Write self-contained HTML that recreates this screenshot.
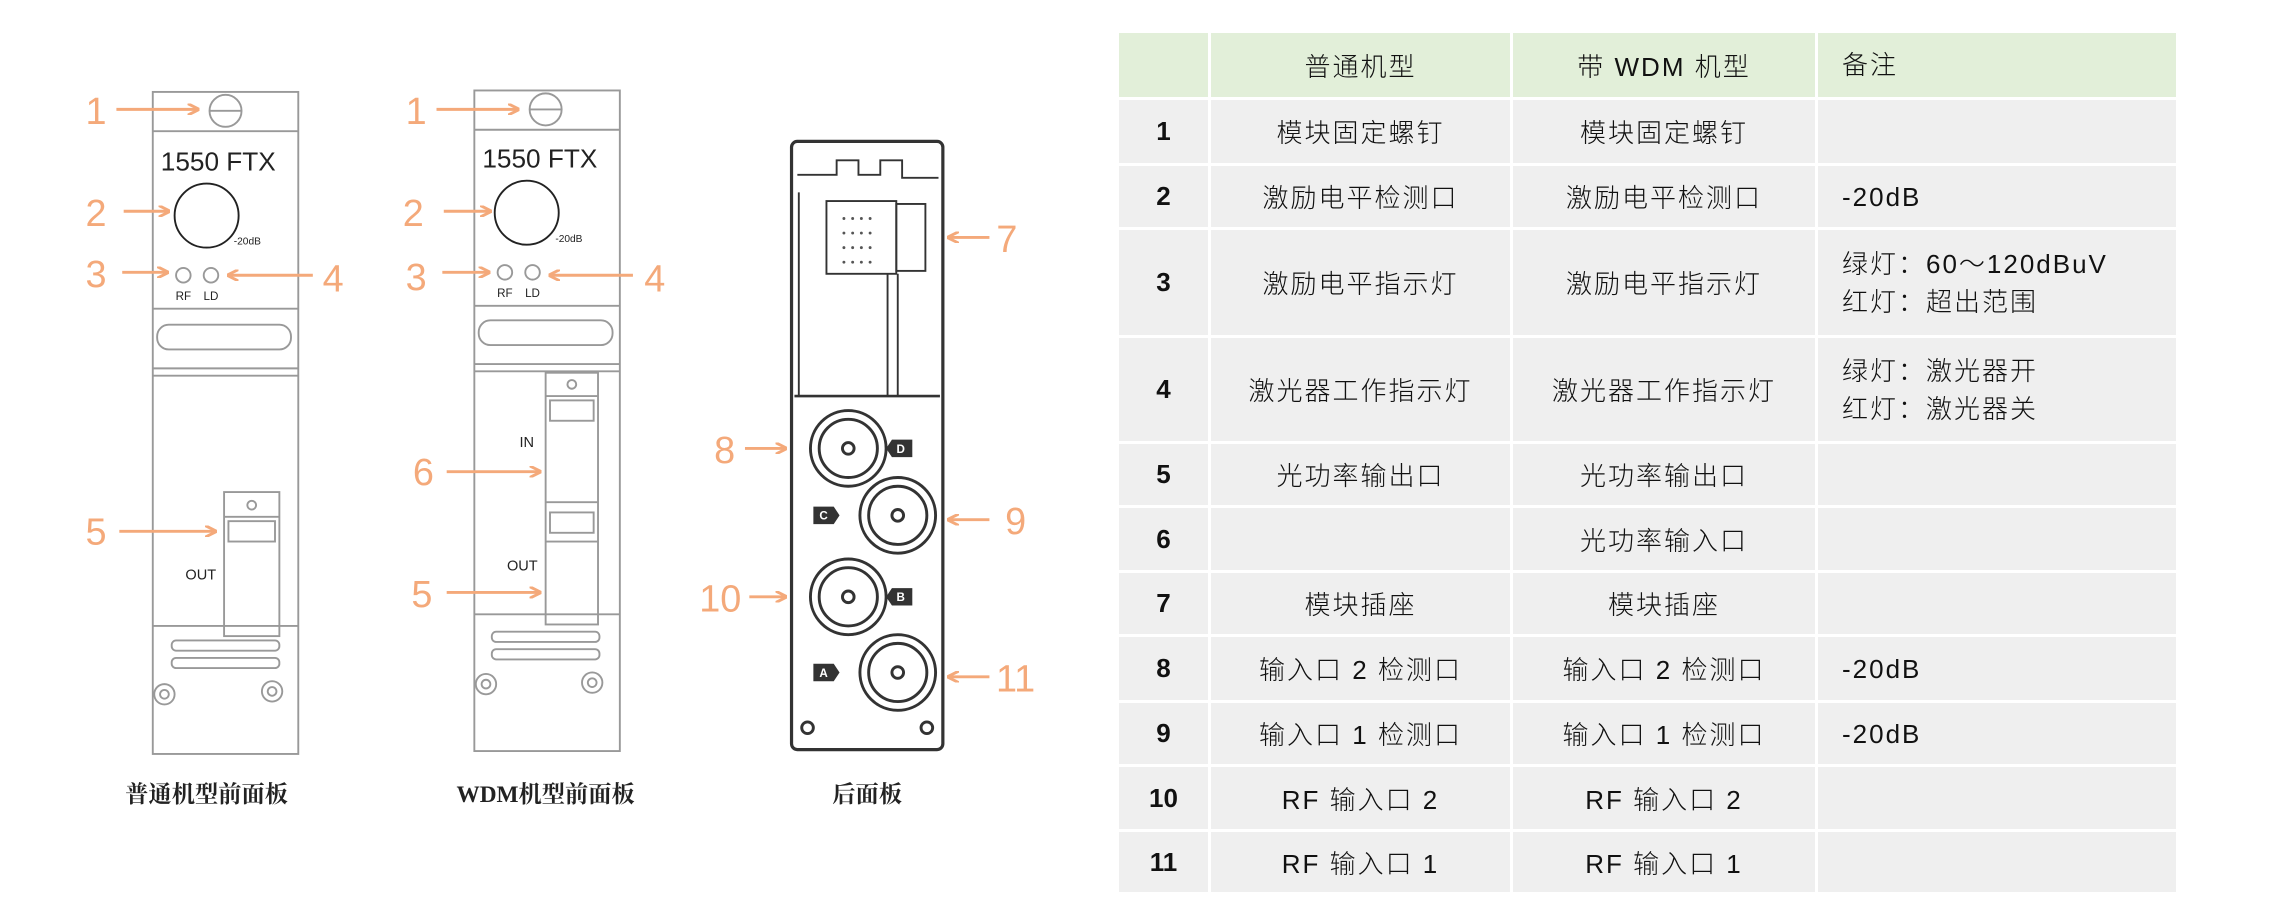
<!DOCTYPE html>
<html><head><meta charset="utf-8"><style>
body{margin:0;width:2270px;height:923px;background:#fff;overflow:hidden;position:relative;font-family:"Liberation Sans","Noto Sans CJK SC",sans-serif}
svg{position:absolute;left:0;top:0}
table{position:absolute;left:1119px;top:33px;border-collapse:separate;border-spacing:3px;margin:-3px}
td{background:#efefef;font-size:26px;color:#111;text-align:center;padding:0;font-family:"Liberation Sans","Noto Sans CJK SC",sans-serif;font-weight:300;letter-spacing:2px}
tr.h td{background:#e2efd9}
td.n{font-weight:bold;width:89px;letter-spacing:0}
td.c{width:299px}
td.c2{width:302px}
td.r{width:358px;text-align:left;padding-left:24px;box-sizing:border-box;line-height:38px}
</style></head><body>
<svg width="1100" height="923" viewBox="0 0 756 634" font-family="Liberation Sans, sans-serif">
<defs><marker id="a" markerWidth="8" markerHeight="8" refX="7" refY="4" orient="auto" markerUnits="userSpaceOnUse"><path d="M0,0 L8,4 L0,8" fill="none" stroke="#f4a97a" stroke-width="2"/></marker></defs>
<g fill="none" stroke="#999" stroke-width="1.3">
<rect x="105" y="63" width="100" height="455"/>
<line x1="105" y1="90" x2="205" y2="90"/>
<circle cx="155" cy="76" r="11"/><line x1="144" y1="76" x2="166" y2="76"/>
<circle cx="142" cy="148" r="22" stroke="#222"/>
<circle cx="126" cy="189" r="5"/><circle cx="145" cy="189" r="5"/>
<line x1="105" y1="212" x2="205" y2="212"/>
<rect x="108" y="223" width="92" height="17" rx="8"/>
<line x1="105" y1="253" x2="205" y2="253"/><line x1="105" y1="258" x2="205" y2="258"/>
<rect x="154" y="338" width="38" height="99"/><line x1="154" y1="355" x2="192" y2="355"/><rect x="157" y="358" width="32" height="14"/><circle cx="173" cy="347" r="3"/>
<line x1="105" y1="430" x2="205" y2="430"/>
<rect x="118" y="440" width="74" height="7" rx="3"/><rect x="118" y="452" width="74" height="7" rx="3"/>
<circle cx="113" cy="477" r="7"/><circle cx="113" cy="477" r="3"/><circle cx="187" cy="475" r="7"/><circle cx="187" cy="475" r="3"/>
<rect x="326" y="62" width="100" height="454"/>
<line x1="326" y1="89" x2="426" y2="89"/>
<circle cx="375" cy="75" r="11"/><line x1="364" y1="75" x2="386" y2="75"/>
<circle cx="362" cy="146" r="22" stroke="#222"/>
<circle cx="347" cy="187" r="5"/><circle cx="366" cy="187" r="5"/>
<line x1="326" y1="210" x2="426" y2="210"/>
<rect x="329" y="220" width="92" height="17" rx="8"/>
<line x1="326" y1="250" x2="426" y2="250"/><line x1="326" y1="255" x2="426" y2="255"/>
<rect x="375" y="256" width="36" height="173"/><line x1="375" y1="272" x2="411" y2="272"/><rect x="378" y="275" width="30" height="14"/><circle cx="393" cy="264" r="3"/>
<line x1="375" y1="345" x2="411" y2="345"/><rect x="378" y="352" width="30" height="14"/><line x1="375" y1="372" x2="411" y2="372"/>
<line x1="326" y1="422" x2="426" y2="422"/>
<rect x="338" y="434" width="74" height="7" rx="3"/><rect x="338" y="446" width="74" height="7" rx="3"/>
<circle cx="334" cy="470" r="7"/><circle cx="334" cy="470" r="3"/><circle cx="407" cy="469" r="7"/><circle cx="407" cy="469" r="3"/>
</g>
<g fill="none" stroke="#333" stroke-width="1.3">
<rect x="544" y="97" width="104" height="418" rx="4" stroke-width="2.2"/>
<path d="M548,120 H575 V110 H590 V120 H605 V110 H620 V122 H645"/>
<line x1="546" y1="272" x2="646" y2="272" stroke-width="1.8"/>
<rect x="568" y="138" width="48" height="50"/><rect x="616" y="140" width="20" height="46"/>
<line x1="610" y1="188" x2="610" y2="272"/><line x1="617" y1="188" x2="617" y2="272"/>
<line x1="549" y1="132" x2="549" y2="272"/>
<g stroke-width="2">
<circle cx="583" cy="308" r="26"/><circle cx="583" cy="308" r="20"/><circle cx="583" cy="308" r="4"/>
<circle cx="617" cy="354" r="26"/><circle cx="617" cy="354" r="20"/><circle cx="617" cy="354" r="4"/>
<circle cx="583" cy="410" r="26"/><circle cx="583" cy="410" r="20"/><circle cx="583" cy="410" r="4"/>
<circle cx="617" cy="462" r="26"/><circle cx="617" cy="462" r="20"/><circle cx="617" cy="462" r="4"/>
<circle cx="555" cy="500" r="4"/><circle cx="637" cy="500" r="4"/>
</g>
</g>
<g fill="#333" font-size="8" font-weight="bold">
<g fill="#555"><circle cx="580" cy="150" r="1"/><circle cx="586" cy="150" r="1"/><circle cx="592" cy="150" r="1"/><circle cx="598" cy="150" r="1"/><circle cx="580" cy="160" r="1"/><circle cx="586" cy="160" r="1"/><circle cx="592" cy="160" r="1"/><circle cx="598" cy="160" r="1"/><circle cx="580" cy="170" r="1"/><circle cx="586" cy="170" r="1"/><circle cx="592" cy="170" r="1"/><circle cx="598" cy="170" r="1"/><circle cx="580" cy="180" r="1"/><circle cx="586" cy="180" r="1"/><circle cx="592" cy="180" r="1"/><circle cx="598" cy="180" r="1"/></g>
<path d="M613,302 H627 V314 H613 L609,308Z"/><path d="M559,348 H573 L577,354 L573,360 H559Z"/><path d="M613,404 H627 V416 H613 L609,410Z"/><path d="M559,456 H573 L577,462 L573,468 H559Z"/>
<g fill="#fff" text-anchor="middle"><text x="619" y="311">D</text><text x="566" y="357">C</text><text x="619" y="413">B</text><text x="566" y="465">A</text></g>
</g>
<g fill="#222" text-anchor="middle">
<text x="150" y="117" font-size="18">1550 FTX</text><text x="371" y="115" font-size="18">1550 FTX</text>
<text x="170" y="168" font-size="7">-20dB</text><text x="391" y="166" font-size="7">-20dB</text>
<text x="126" y="206" font-size="8">RF</text><text x="145" y="206" font-size="8">LD</text>
<text x="347" y="204" font-size="8">RF</text><text x="366" y="204" font-size="8">LD</text>
<text x="138" y="398" font-size="10">OUT</text><text x="359" y="392" font-size="10">OUT</text><text x="362" y="307" font-size="10">IN</text>
<g font-family="Liberation Serif, Noto Serif CJK SC, serif" font-weight="bold" font-size="16">
<text x="142" y="551">普通机型前面板</text><text x="375" y="551">WDM机型前面板</text><text x="596" y="551">后面板</text></g>
</g>
<g stroke="#f4a97a" stroke-width="2" marker-end="url(#a)">
<line x1="80" y1="75" x2="136" y2="75"/><line x1="85" y1="145" x2="116" y2="145"/><line x1="84" y1="187" x2="115" y2="187"/><line x1="215" y1="189" x2="157" y2="189"/><line x1="82" y1="365" x2="148" y2="365"/>
<line x1="300" y1="75" x2="356" y2="75"/><line x1="305" y1="145" x2="337" y2="145"/><line x1="304" y1="187" x2="336" y2="187"/><line x1="435" y1="189" x2="378" y2="189"/><line x1="307" y1="324" x2="371" y2="324"/><line x1="307" y1="407" x2="371" y2="407"/>
<line x1="680" y1="163" x2="652" y2="163"/><line x1="512" y1="308" x2="540" y2="308"/><line x1="680" y1="357" x2="652" y2="357"/><line x1="515" y1="410" x2="540" y2="410"/><line x1="680" y1="465" x2="652" y2="465"/>
</g>
<g fill="#f4a97a" font-size="26" text-anchor="middle">
<text x="66" y="85">1</text><text x="66" y="155">2</text><text x="66" y="197">3</text><text x="229" y="200">4</text><text x="66" y="374">5</text>
<text x="286" y="85">1</text><text x="284" y="155">2</text><text x="286" y="199">3</text><text x="450" y="200">4</text><text x="291" y="333">6</text><text x="290" y="417">5</text>
<text x="692" y="173">7</text><text x="498" y="318">8</text><text x="698" y="367">9</text><text x="495" y="420">10</text><text x="698" y="475">11</text>
</g>
</svg>
<table>
<tr class="h" style="height:64px"><td class="n"></td><td class="c">普通机型</td><td class="c2">带 WDM 机型</td><td class="r">备注</td></tr>
<tr style="height:63px"><td class="n">1</td><td class="c">模块固定螺钉</td><td class="c2">模块固定螺钉</td><td class="r"></td></tr>
<tr style="height:61px"><td class="n">2</td><td class="c">激励电平检测口</td><td class="c2">激励电平检测口</td><td class="r">-20dB</td></tr>
<tr style="height:105px"><td class="n">3</td><td class="c">激励电平指示灯</td><td class="c2">激励电平指示灯</td><td class="r">绿灯：60～120dBuV<br>红灯：超出范围</td></tr>
<tr style="height:103px"><td class="n">4</td><td class="c">激光器工作指示灯</td><td class="c2">激光器工作指示灯</td><td class="r">绿灯：激光器开<br>红灯：激光器关</td></tr>
<tr style="height:61px"><td class="n">5</td><td class="c">光功率输出口</td><td class="c2">光功率输出口</td><td class="r"></td></tr>
<tr style="height:62px"><td class="n">6</td><td class="c"></td><td class="c2">光功率输入口</td><td class="r"></td></tr>
<tr style="height:61px"><td class="n">7</td><td class="c">模块插座</td><td class="c2">模块插座</td><td class="r"></td></tr>
<tr style="height:63px"><td class="n">8</td><td class="c">输入口 2 检测口</td><td class="c2">输入口 2 检测口</td><td class="r">-20dB</td></tr>
<tr style="height:61px"><td class="n">9</td><td class="c">输入口 1 检测口</td><td class="c2">输入口 1 检测口</td><td class="r">-20dB</td></tr>
<tr style="height:62px"><td class="n">10</td><td class="c">RF 输入口 2</td><td class="c2">RF 输入口 2</td><td class="r"></td></tr>
<tr style="height:60px"><td class="n">11</td><td class="c">RF 输入口 1</td><td class="c2">RF 输入口 1</td><td class="r"></td></tr>
</table>
</body></html>
